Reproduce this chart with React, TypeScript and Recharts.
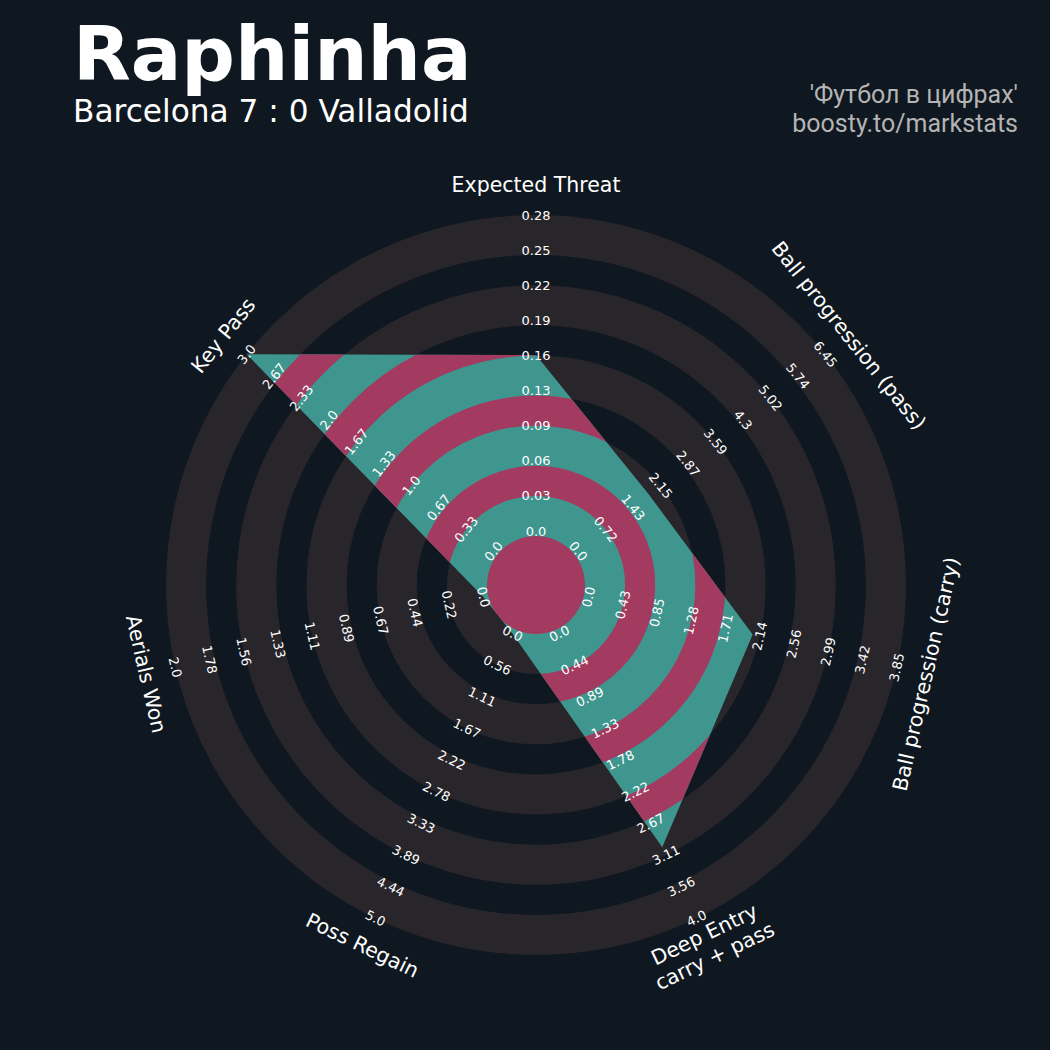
import React from 'react';
import { RadarChart, Radar, PolarGrid, PolarAngleAxis, PolarRadiusAxis } from 'recharts';

// ---------- data ----------
const params = [
  'Expected Threat',
  'Ball progression (pass)',
  'Ball progression (carry)',
  'Deep Entry',
  'Poss Regain',
  'Aerials Won',
  'Key Pass',
];
const paramLabels = [
  'Expected Threat',
  'Ball progression (pass)',
  'Ball progression (carry)',
  'Deep Entry\ncarry + pass',
  'Poss Regain',
  'Aerials Won',
  'Key Pass',
];
const minValues = [0, 0, 0, 0, 0, 0, 0];
const maxValues = [0.28, 6.45, 3.85, 4.0, 5.0, 2.0, 3.0];
const playerValues = [0.156, 1.85, 2.05, 3.0, 0, 0, 3.0];

const rangeLabels: string[][] = [
  ['0.0', '0.03', '0.06', '0.09', '0.13', '0.16', '0.19', '0.22', '0.25', '0.28'],
  ['0.0', '0.72', '1.43', '2.15', '2.87', '3.59', '4.3', '5.02', '5.74', '6.45'],
  ['0.0', '0.43', '0.85', '1.28', '1.71', '2.14', '2.56', '2.99', '3.42', '3.85'],
  ['0.0', '0.44', '0.89', '1.33', '1.78', '2.22', '2.67', '3.11', '3.56', '4.0'],
  ['0.0', '0.56', '1.11', '1.67', '2.22', '2.78', '3.33', '3.89', '4.44', '5.0'],
  ['0.0', '0.22', '0.44', '0.67', '0.89', '1.11', '1.33', '1.56', '1.78', '2.0'],
  ['0.0', '0.33', '0.67', '1.0', '1.33', '1.67', '2.0', '2.33', '2.67', '3.0'],
];

const title = 'Raphinha';
const subtitle = 'Barcelona 7 : 0 Valladolid';
const creditLines = ["'Футбол в цифрах'", 'boosty.to/markstats'];

// ---------- style / layout ----------
const W = 1050;
const H = 1050;
const CX = 536;
const CY = 585;
const INNER_R = 54;
const OUTER_R = 370;
const LABEL_R = 400;
const NUM_STEPS = rangeLabels[0].length - 1;
const UNIT = (OUTER_R - INNER_R) / NUM_STEPS;
const GAP = 5;

const BG = '#0f1820';
const GRAY = '#28252b';
const TEAL = '#3e968f';
const MAGENTA = '#a33b60';
const FONT = '"DejaVu Sans", sans-serif';

const edge = (k: number) => INNER_R + UNIT * k;
const grayBands: [number, number][] = [0, 1, 2, 3, 4].map((k) => [edge(2 * k) - GAP, edge(2 * k + 1)]);
const darkBands: [number, number][] = [0, 1, 2, 3].map((k) => [edge(2 * k + 1), edge(2 * k + 2) - GAP]);
const grayMids = grayBands.map(([a, b]) => (a + b) / 2);

const data = params.map((p, i) => ({
  param: p,
  value: (playerValues[i] - minValues[i]) / (maxValues[i] - minValues[i]),
}));
const tickValues = rangeLabels[0].map((_, k) => k / NUM_STEPS);

const N = params.length;
const bearing = (i: number) => (i * 360) / N;
const textRot = (b: number) => (b <= 90 ? b : b < 270 ? b - 180 : b - 360);

const makeRangeTick = (axisIdx: number) => (props: any) => {
  const { x, y, payload } = props;
  const k = Math.round(Number(payload?.value) * NUM_STEPS);
  const label = rangeLabels[axisIdx][k];
  const rot = textRot(bearing(axisIdx));
  return (
    <text
      x={x}
      y={y}
      textAnchor="middle"
      dominantBaseline="central"
      transform={`rotate(${rot}, ${x}, ${y})`}
      fill="#ffffff"
      fontSize={13}
      fontFamily={FONT}
    >
      {label}
    </text>
  );
};

const AngleTick = (props: any) => {
  const { x, y, payload } = props;
  const cx = typeof props.cx === 'number' ? props.cx : CX;
  const cy = typeof props.cy === 'number' ? props.cy : CY;
  const dx = x - cx;
  const dy = y - cy;
  const d = Math.hypot(dx, dy) || 1;
  const px = cx + (dx / d) * LABEL_R;
  const py = cy + (dy / d) * LABEL_R;
  const i = params.indexOf(payload.value);
  const rot = textRot(bearing(i));
  const lines = paramLabels[i].split('\n');
  const lh = 24;
  return (
    <text
      x={px}
      y={py}
      textAnchor="middle"
      dominantBaseline="central"
      transform={`rotate(${rot}, ${px}, ${py})`}
      fill="#ffffff"
      fontSize={20.5}
      fontFamily={FONT}
    >
      {lines.map((ln, j) => (
        <tspan key={j} x={px} y={py + (j - (lines.length - 1) / 2) * lh}>
          {ln}
        </tspan>
      ))}
    </text>
  );
};

const RadarShape = (props: any) => {
  const pts = props.points || [];
  if (!pts.length) return null;
  const cx = typeof pts[0].cx === 'number' ? pts[0].cx : CX;
  const cy = typeof pts[0].cy === 'number' ? pts[0].cy : CY;
  const poly = pts.map((p: any) => `${p.x},${p.y}`).join(' ');
  return (
    <g>
      <defs>
        <clipPath id="raphinha-radar-clip">
          <polygon points={poly} />
        </clipPath>
      </defs>
      <polygon points={poly} fill={TEAL} stroke="none" />
      <g clipPath="url(#raphinha-radar-clip)">
        <circle cx={cx} cy={cy} r={INNER_R - GAP} fill={MAGENTA} />
        {darkBands.map(([a, b], j) => (
          <circle key={j} cx={cx} cy={cy} r={(a + b) / 2} fill="none" stroke={MAGENTA} strokeWidth={b - a} />
        ))}
      </g>
    </g>
  );
};

export default function App() {
  return (
    <div
      style={{
        position: 'absolute',
        left: 0,
        top: 0,
        width: W,
        height: H,
        background: BG,
        overflow: 'hidden',
      }}
    >
      <RadarChart
        width={W}
        height={H}
        data={data}
        cx={CX}
        cy={CY}
        innerRadius={INNER_R}
        outerRadius={OUTER_R}
        startAngle={90}
        endAngle={-270}
        margin={{ top: 0, right: 0, bottom: 0, left: 0 }}
      >
        <PolarGrid
          gridType="circle"
          radialLines={false}
          polarRadius={grayMids}
          stroke={GRAY}
          strokeWidth={UNIT + GAP}
          fill="none"
        />
        <Radar
          dataKey="value"
          radiusAxisId={0}
          isAnimationActive={false}
          fill={TEAL}
          stroke="none"
          shape={RadarShape}
        />
        <PolarAngleAxis dataKey="param" axisLine={false} tickLine={false} tick={AngleTick} />
        {params.map((_, i) => (
          <PolarRadiusAxis
            key={i}
            radiusAxisId={i}
            angle={90 - bearing(i)}
            type="number"
            domain={[0, 1]}
            allowDataOverflow
            ticks={tickValues}
            axisLine={false}
            tick={makeRangeTick(i)}
          />
        ))}
      </RadarChart>
      <svg
        width={W}
        height={H}
        style={{ position: 'absolute', left: 0, top: 0, pointerEvents: 'none' }}
      >
        <text x={73} y={80} fill="#ffffff" fontSize={75} fontWeight="bold" fontFamily={FONT}>
          {title}
        </text>
        <text x={73} y={122} fill="#ffffff" fontSize={31.2} fontFamily={FONT}>
          {subtitle}
        </text>
        <text x={1018} y={103} fill="#b4b4b4" fontSize={25} fontFamily="Roboto, sans-serif" textAnchor="end">
          {creditLines[0]}
        </text>
        <text x={1018} y={132} fill="#b4b4b4" fontSize={25} fontFamily="Roboto, sans-serif" textAnchor="end">
          {creditLines[1]}
        </text>
      </svg>
    </div>
  );
}
